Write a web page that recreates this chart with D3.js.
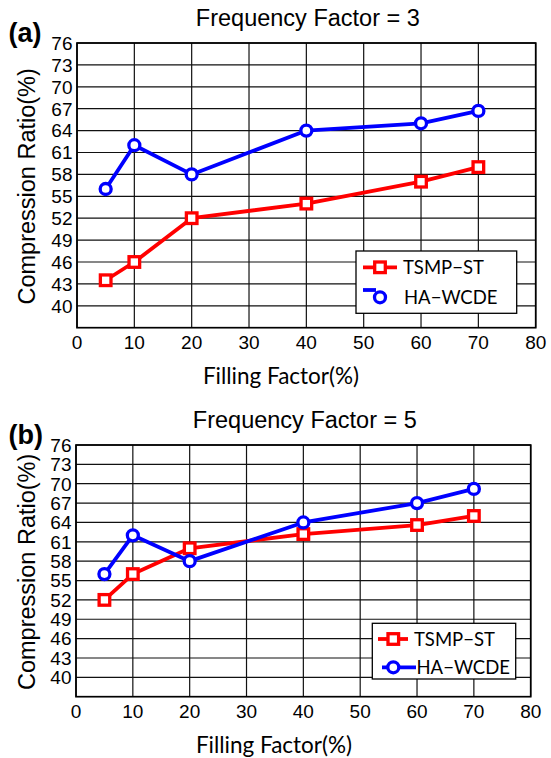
<!DOCTYPE html>
<html>
<head>
<meta charset="utf-8">
<script src="https://cdn.jsdelivr.net/npm/d3@7"></script>
<style>
  html, body { margin: 0; padding: 0; background: #fff; }
  svg { display: block; }
  .tick-label { font-family: "Liberation Sans", Arial, sans-serif; font-size: 19px; fill: #000; }
  .title { font-family: "Liberation Sans", Arial, sans-serif; font-size: 23.5px; fill: #000; }
  .ylab { font-family: "Liberation Sans", Arial, sans-serif; font-size: 23.5px; fill: #000; }
  .xlab { font-family: Lato, "Open Sans", sans-serif; font-size: 22.5px; fill: #000; }
  .tag { font-family: "Liberation Sans", Arial, sans-serif; font-size: 27px; font-weight: bold; fill: #000; }
  .leg { font-family: Lato, "Open Sans", sans-serif; font-size: 18.5px; fill: #000; }
</style>
</head>
<body>
<svg id="chart"></svg>
<script>
// data
const fillingFactor = [5, 10, 20, 40, 60, 70];
const tsmpFF3 = [43.5, 46, 52, 54, 57, 59];
const hawcdeFF3 = [56, 62, 58, 64, 65, 66.7];
const tsmpFF5 = [52, 56, 60, 62.2, 63.6, 65];
const hawcdeFF5 = [56, 62, 58, 64, 67, 69.2];
const xTicks = [0, 10, 20, 30, 40, 50, 60, 70, 80];
const yTicks = [40, 43, 46, 49, 52, 55, 58, 61, 64, 67, 70, 73, 76];
const seriesNames = ["TSMP\u2212ST", "HA\u2212WCDE"];
const panelTitles = ["Frequency Factor = 3", "Frequency Factor = 5"];
const panelTags = ["(a)", "(b)"];

const width = 551;
const height = 758;
const svg = d3.select("#chart").attr("width", width).attr("height", height);

const RED = "#ff0000";
const BLUE = "#0000ff";

function drawPanel(p) {
  const x = d3.scaleLinear().domain([0, 80]).range([p.left, p.right]);
  const y = d3.scaleLinear().domain([37, 76]).range([p.bottom, p.top]);
  const g = svg.append("g");

  // grid
  g.selectAll(".vgrid").data(xTicks).enter().append("line")
    .attr("x1", d => x(d)).attr("x2", d => x(d))
    .attr("y1", p.top).attr("y2", p.bottom)
    .attr("stroke", "#111").attr("stroke-width", 1.2);
  g.selectAll(".hgrid").data(yTicks).enter().append("line")
    .attr("x1", p.left).attr("x2", p.right)
    .attr("y1", d => y(d)).attr("y2", d => y(d))
    .attr("stroke", "#111").attr("stroke-width", 1.2);

  // frame
  g.append("rect")
    .attr("x", p.left).attr("y", p.top)
    .attr("width", p.right - p.left).attr("height", p.bottom - p.top)
    .attr("fill", "none").attr("stroke", "#000").attr("stroke-width", 1.7);

  // tick labels
  g.selectAll(".yt").data(yTicks).enter().append("text")
    .attr("class", "tick-label")
    .attr("x", p.left - 4.5).attr("y", d => y(d)).attr("dy", "0.36em")
    .attr("text-anchor", "end")
    .text(d => d);
  g.selectAll(".xt").data(xTicks).enter().append("text")
    .attr("class", "tick-label")
    .attr("x", d => x(d)).attr("y", p.bottom + 21)
    .attr("text-anchor", "middle")
    .text(d => d);

  // titles and labels
  g.append("text").attr("class", "title")
    .attr("x", (p.left + p.right) / 2 + 1.5).attr("y", p.top - 17)
    .attr("text-anchor", "middle").text(p.title);
  g.append("text").attr("class", "tag")
    .attr("x", 8.5).attr("y", p.top - 1.5).text(p.tag);
  g.append("text").attr("class", "ylab")
    .attr("transform", `translate(35,${(p.top + p.bottom) / 2 + 1}) rotate(-90)`)
    .attr("text-anchor", "middle").text("Compression Ratio(%)");
  g.append("text").attr("class", "xlab")
    .attr("x", p.xlabX).attr("y", p.bottom + 56.5)
    .attr("text-anchor", "middle").text("Filling Factor(%)");

  const line = d3.line().x(d => x(d[0])).y(d => y(d[1]));

  // series
  const series = [
    { values: p.tsmp, color: RED, marker: "square" },
    { values: p.hawcde, color: BLUE, marker: "circle" },
  ];
  series.forEach(s => {
    const pts = fillingFactor.map((f, i) => [f, s.values[i]]);
    g.append("path").datum(pts)
      .attr("d", line)
      .attr("fill", "none").attr("stroke", s.color)
      .attr("stroke-width", 3.8).attr("stroke-linejoin", "round");
    drawMarkers(g, pts.map(d => [x(d[0]), y(d[1])]), s);
  });

  // legend
  const lg = p.legend;
  g.append("rect")
    .attr("x", lg.x0).attr("y", lg.y0)
    .attr("width", lg.x1 - lg.x0).attr("height", lg.y1 - lg.y0)
    .attr("fill", "#fff").attr("stroke", "#000").attr("stroke-width", 1.3);
  lg.rows.forEach((r, i) => {
    const s = series[i];
    g.append("line")
      .attr("x1", r.l0).attr("x2", r.l1)
      .attr("y1", r.ly).attr("y2", r.ly)
      .attr("stroke", s.color).attr("stroke-width", 3.8);
    drawMarkers(g, [[r.mx, r.my]], s);
    g.append("text").attr("class", "leg")
      .attr("x", r.tx).attr("y", r.my).attr("dy", "0.36em")
      .text(seriesNames[i]);
  });
}

function drawMarkers(g, pts, s) {
  if (s.marker === "square") {
    g.selectAll(null).data(pts).enter().append("rect")
      .attr("x", d => d[0] - 5.3).attr("y", d => d[1] - 5.3)
      .attr("width", 10.6).attr("height", 10.6)
      .attr("fill", "#fff").attr("stroke", s.color).attr("stroke-width", 3.3);
  } else {
    g.selectAll(null).data(pts).enter().append("circle")
      .attr("cx", d => d[0]).attr("cy", d => d[1]).attr("r", 5.5)
      .attr("fill", "#fff").attr("stroke", s.color).attr("stroke-width", 3.3);
  }
}

drawPanel({
  left: 77, right: 535.7, top: 43, bottom: 327.7,
  title: panelTitles[0], tag: panelTags[0], xlabX: 281,
  tsmp: tsmpFF3, hawcde: hawcdeFF3,
  legend: {
    x0: 356, x1: 516.7, y0: 251, y1: 313.3,
    rows: [
      { l0: 363, l1: 397, ly: 267.3, mx: 380, my: 267.3, tx: 403 },
      { l0: 363, l1: 376, ly: 290, mx: 380, my: 297.3, tx: 404 },
    ],
  },
});

drawPanel({
  left: 76, right: 530.7, top: 445, bottom: 696.7,
  title: panelTitles[1], tag: panelTags[1], xlabX: 274,
  tsmp: tsmpFF5, hawcde: hawcdeFF5,
  legend: {
    x0: 372.3, x1: 515.7, y0: 623.3, y1: 679,
    rows: [
      { l0: 378, l1: 408, ly: 639, mx: 393.3, my: 639, tx: 414 },
      { l0: 382, l1: 416, ly: 667.3, mx: 393.3, my: 667.3, tx: 416.5 },
    ],
  },
});
</script>
</body>
</html>
